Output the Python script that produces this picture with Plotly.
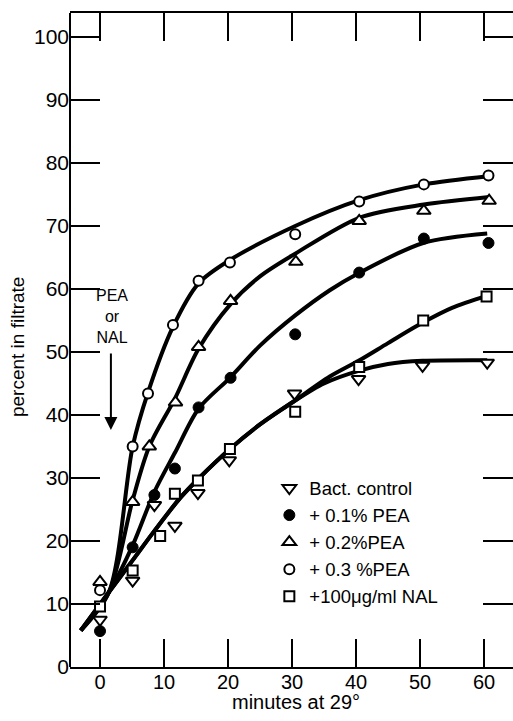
import plotly.graph_objects as go

# ---------------- data ----------------
# measured points (minutes, percent in filtrate)
ctrl_x = [0, 5.1, 8.5, 11.7, 15.3, 20.2, 30.4, 40.4, 50.4, 60.5]
ctrl_y = [7.5, 13.7, 25.7, 22.4, 27.6, 32.8, 43.4, 45.7, 47.8, 48.3]

pea01_x = [0, 5.1, 8.5, 11.7, 15.4, 20.4, 30.5, 40.5, 50.6, 60.7]
pea01_y = [5.7, 19.0, 27.3, 31.5, 41.2, 45.9, 52.8, 62.6, 68.0, 67.3]

pea02_x = [0, 5.1, 7.7, 11.8, 15.4, 20.4, 30.6, 40.5, 50.6, 60.8]
pea02_y = [13.5, 26.2, 35.0, 42.0, 50.8, 58.1, 64.3, 70.8, 72.4, 74.0]

pea03_x = [0, 5.1, 7.5, 11.4, 15.4, 20.3, 30.5, 40.5, 50.6, 60.7]
pea03_y = [12.2, 35.0, 43.4, 54.3, 61.3, 64.2, 68.7, 73.9, 76.6, 78.0]

nal_x = [0, 5.1, 9.4, 11.7, 15.3, 20.3, 30.5, 40.5, 50.5, 60.4]
nal_y = [9.6, 15.3, 20.8, 27.5, 29.6, 34.6, 40.5, 47.6, 55.0, 58.8]

# hand-drawn fitted curves
fit_ctrl_x = [-3.0, 1.4, 5.0, 8.5, 12.5, 15.3, 20.3, 25.0, 30.2, 35.0, 40.4, 45.0, 50.4, 60.5]
fit_ctrl_y = [5.8, 11.9, 16.8, 21.6, 26.8, 29.8, 34.6, 38.5, 42.1, 45.0, 47.0, 48.1, 48.6, 48.7]

fit_nal_x = [-3.0, 1.4, 5.0, 8.5, 12.5, 15.3, 20.3, 25.0, 30.2, 35.9, 40.4, 45.0, 50.5, 55.0, 60.4]
fit_nal_y = [5.8, 11.9, 16.8, 21.6, 26.8, 29.8, 34.6, 38.5, 42.1, 46.1, 48.6, 51.4, 54.7, 57.0, 58.9]

fit_pea01_x = [-3.0, 1.4, 5.1, 8.5, 11.7, 15.4, 20.3, 25.0, 30.5, 35.9, 40.4, 50.5, 60.5]
fit_pea01_y = [5.8, 11.9, 19.3, 27.8, 34.0, 41.0, 45.9, 51.0, 55.8, 59.8, 62.5, 67.3, 68.8]

fit_pea02_x = [-3.0, 1.4, 5.1, 7.7, 11.7, 15.4, 20.4, 25.0, 30.5, 40.5, 50.6, 60.8]
fit_pea02_y = [5.8, 11.9, 26.5, 35.0, 42.6, 50.5, 57.6, 62.0, 65.6, 71.3, 73.4, 74.6]

fit_pea03_x = [-3.0, 1.4, 5.1, 7.5, 11.4, 15.4, 20.3, 30.5, 40.5, 50.6, 60.7]
fit_pea03_y = [5.8, 11.9, 35.0, 43.6, 54.0, 60.9, 64.6, 70.0, 74.1, 76.6, 77.9]

series_names = ["Bact. control", "+ 0.1% PEA", "+ 0.2%PEA", "+ 0.3 %PEA", "+100\u03bcg/ml NAL"]

x_ticks = [0, 10, 20, 30, 40, 50, 60]
y_ticks = [0, 10, 20, 30, 40, 50, 60, 70, 80, 90, 100]

# ---------------- figure ----------------
FONT = "Liberation Sans, Arial, sans-serif"
fig = go.Figure()

curve_style = dict(mode="lines", line=dict(color="black", width=4, shape="spline", smoothing=0.85),
                   showlegend=False, hoverinfo="skip")
for fx, fy in [(fit_ctrl_x, fit_ctrl_y), (fit_nal_x, fit_nal_y), (fit_pea01_x, fit_pea01_y),
               (fit_pea02_x, fit_pea02_y), (fit_pea03_x, fit_pea03_y)]:
    fig.add_trace(go.Scatter(x=fx, y=fy, **curve_style))

open_line = dict(color="black", width=2)
fig.add_trace(go.Scatter(x=ctrl_x, y=ctrl_y, mode="markers", name=series_names[0],
                         marker=dict(symbol="triangle-down", size=12, color="white", line=open_line)))
fig.add_trace(go.Scatter(x=pea01_x, y=pea01_y, mode="markers", name=series_names[1],
                         marker=dict(symbol="circle", size=11, color="black", line=dict(color="black", width=1))))
fig.add_trace(go.Scatter(x=pea02_x, y=pea02_y, mode="markers", name=series_names[2],
                         marker=dict(symbol="triangle-up", size=12, color="white", line=open_line)))
fig.add_trace(go.Scatter(x=pea03_x, y=pea03_y, mode="markers", name=series_names[3],
                         marker=dict(symbol="circle", size=10, color="white", line=open_line)))
fig.add_trace(go.Scatter(x=nal_x, y=nal_y, mode="markers", name=series_names[4],
                         marker=dict(symbol="square", size=10, color="white", line=open_line)))

fig.update_layout(
    width=513, height=721,
    margin=dict(l=70, r=0, t=13, b=54),
    paper_bgcolor="white", plot_bgcolor="white",
    font=dict(family=FONT, size=20, color="black"),
    showlegend=True,
    legend=dict(x=0.45, y=0.302, xanchor="left", yanchor="top", bgcolor="rgba(0,0,0,0)",
                font=dict(family=FONT, size=18.5, color="black"), itemsizing="trace",
                tracegroupgap=0),
)
fig.update_xaxes(range=[-4.69, 64.53], tickvals=x_ticks, ticktext=[str(v) for v in x_ticks],
                 ticks="inside", ticklen=28, tickwidth=2, tickcolor="black",
                 showline=True, linewidth=2, linecolor="black", mirror="ticks",
                 showgrid=False, zeroline=False, tickfont=dict(size=20),
                 ticklabelstandoff=-4)
fig.update_yaxes(range=[0, 103.8], tickvals=y_ticks, ticktext=[str(v) for v in y_ticks],
                 ticks="inside", ticklen=30, tickwidth=2, tickcolor="black",
                 showline=False, mirror="ticks",
                 showgrid=False, zeroline=False, tickfont=dict(size=21))

# left axis line
fig.add_shape(type="line", xref="paper", yref="paper", x0=0, x1=0, y0=0, y1=1,
              line=dict(color="black", width=2))

# axis titles
fig.add_annotation(text="minutes at 29\u00b0", xref="paper", yref="paper", x=0.510, y=-0.053,
                   xanchor="center", yanchor="middle", showarrow=False, font=dict(size=20))
fig.add_annotation(text="percent in filtrate", xref="paper", yref="paper", x=-0.12, y=0.489,
                   xanchor="center", yanchor="middle", textangle=-90, showarrow=False,
                   font=dict(size=19))

# PEA or NAL arrow
fig.add_annotation(text="PEA<br>or<br>NAL", x=1.8, y=55.6, xref="x", yref="y", showarrow=False,
                   xanchor="center", yanchor="middle", font=dict(size=16))
fig.add_annotation(text="", x=1.7, y=37.6, xref="x", yref="y", ax=1.7, ay=50.0,
                   axref="x", ayref="y", showarrow=True, arrowhead=2, arrowsize=1.3,
                   arrowwidth=2, arrowcolor="black", standoff=0)

fig.write_html("out.html", config={"displayModeBar": False},
               post_script="document.body.style.margin='0';document.body.style.overflow='hidden';")
